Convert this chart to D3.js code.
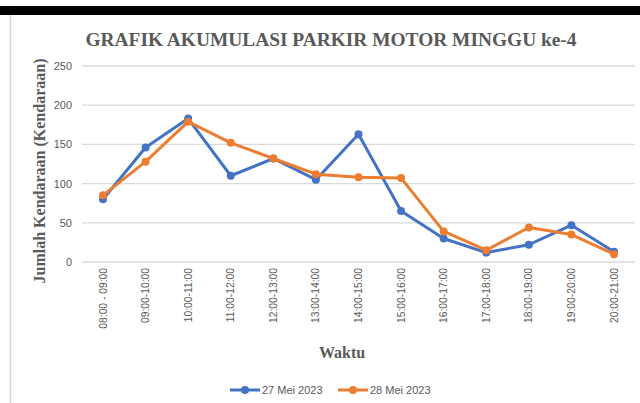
<!DOCTYPE html>
<html>
<head>
<meta charset="utf-8">
<script src="https://cdn.jsdelivr.net/npm/d3@7"></script>
<style>
  body { margin: 0; background: #fff; }
  svg { display: block; }
</style>
</head>
<body>
<script>
// data
var waktu = ["08:00 - 09:00", "09:00-10:00", "10:00-11:00", "11:00-12:00", "12:00-13:00",
             "13:00-14:00", "14:00-15:00", "15:00-16:00", "16:00-17:00", "17:00-18:00",
             "18:00-19:00", "19:00-20:00", "20:00-21:00"];
var mei27 = [80, 146, 183, 110, 132, 105, 163, 65, 30, 12, 22, 47, 13];
var mei28 = [85, 128, 179, 152, 132, 112, 108, 107, 39, 15, 44, 35, 10];
var seriesNames = ["27 Mei 2023", "28 Mei 2023"];
var seriesColors = ["#4472C4", "#ED7D31"];
var yTicks = [0, 50, 100, 150, 200, 250];

var width = 640,
    height = 403;

var svg = d3.select("body").append("svg")
    .attr("width", width)
    .attr("height", height);

// black strip at the top and the frame edge on the left
svg.append("rect")
    .attr("x", 0).attr("y", 6)
    .attr("width", width).attr("height", 9)
    .attr("fill", "#000");
svg.append("line")
    .attr("x1", 10.5).attr("x2", 10.5)
    .attr("y1", 15).attr("y2", height)
    .attr("stroke", "#d9d9d9").attr("stroke-width", 1.5);

var x = d3.scalePoint()
    .domain(waktu)
    .range([103, 614]);

var y = d3.scaleLinear()
    .domain([0, 250])
    .range([262, 66]);

var gridLeft = 82, gridRight = 635;

// gridlines
svg.append("g")
    .selectAll("line")
    .data(yTicks)
    .enter().append("line")
    .attr("x1", gridLeft).attr("x2", gridRight)
    .attr("y1", function(d) { return y(d); })
    .attr("y2", function(d) { return y(d); })
    .attr("stroke", "#d9d9d9")
    .attr("stroke-width", 1.3);

// y tick labels
svg.append("g")
    .selectAll("text")
    .data(yTicks)
    .enter().append("text")
    .attr("x", 72)
    .attr("y", function(d) { return y(d) + 4; })
    .attr("text-anchor", "end")
    .attr("font-family", "Liberation Sans, Arial, sans-serif")
    .attr("font-size", 11)
    .attr("fill", "#595959")
    .text(function(d) { return d; });

// x tick labels
svg.append("g")
    .selectAll("text")
    .data(waktu)
    .enter().append("text")
    .attr("transform", function(d) { return "translate(" + (x(d) + 3.5) + ",268) rotate(-90)"; })
    .attr("text-anchor", "end")
    .attr("font-family", "Liberation Sans, Arial, sans-serif")
    .attr("font-size", 10.3)
    .attr("fill", "#595959")
    .text(function(d) { return d; });

// lines + markers
var series = [mei27, mei28];
var line = d3.line()
    .x(function(d, i) { return x(waktu[i]); })
    .y(function(d) { return y(d); });

series.forEach(function(vals, s) {
    var g = svg.append("g");
    g.append("path")
        .datum(vals)
        .attr("d", line)
        .attr("fill", "none")
        .attr("stroke", seriesColors[s])
        .attr("stroke-width", 3)
        .attr("stroke-linejoin", "round");
    g.selectAll("circle")
        .data(vals)
        .enter().append("circle")
        .attr("cx", function(d, i) { return x(waktu[i]); })
        .attr("cy", function(d) { return y(d); })
        .attr("r", 4)
        .attr("fill", seriesColors[s]);
});

// title
svg.append("text")
    .attr("x", 331)
    .attr("y", 46)
    .attr("text-anchor", "middle")
    .attr("font-family", "Liberation Serif, Times New Roman, serif")
    .attr("font-weight", "bold")
    .attr("font-size", 19.4)
    .attr("fill", "#595959")
    .text("GRAFIK AKUMULASI PARKIR MOTOR MINGGU ke-4");

// axis titles
svg.append("text")
    .attr("transform", "translate(45,171) rotate(-90)")
    .attr("text-anchor", "middle")
    .attr("font-family", "Liberation Serif, Times New Roman, serif")
    .attr("font-weight", "bold")
    .attr("font-size", 16)
    .attr("fill", "#595959")
    .text("Jumlah Kendaraan (Kendaraan)");

svg.append("text")
    .attr("x", 342)
    .attr("y", 358)
    .attr("text-anchor", "middle")
    .attr("font-family", "Liberation Serif, Times New Roman, serif")
    .attr("font-weight", "bold")
    .attr("font-size", 16)
    .attr("fill", "#595959")
    .text("Waktu");

// legend
var legendX = [230, 338];
var legend = svg.append("g")
    .selectAll("g")
    .data(seriesNames)
    .enter().append("g")
    .attr("transform", function(d, i) { return "translate(" + legendX[i] + ",390)"; });
legend.append("line")
    .attr("x1", 0).attr("x2", 30)
    .attr("stroke", function(d, i) { return seriesColors[i]; })
    .attr("stroke-width", 3);
legend.append("circle")
    .attr("cx", 15).attr("r", 4)
    .attr("fill", function(d, i) { return seriesColors[i]; });
legend.append("text")
    .attr("x", 32)
    .attr("y", 4)
    .attr("font-family", "Liberation Sans, Arial, sans-serif")
    .attr("font-size", 11)
    .attr("fill", "#595959")
    .text(function(d) { return d; });
</script>
</body>
</html>
